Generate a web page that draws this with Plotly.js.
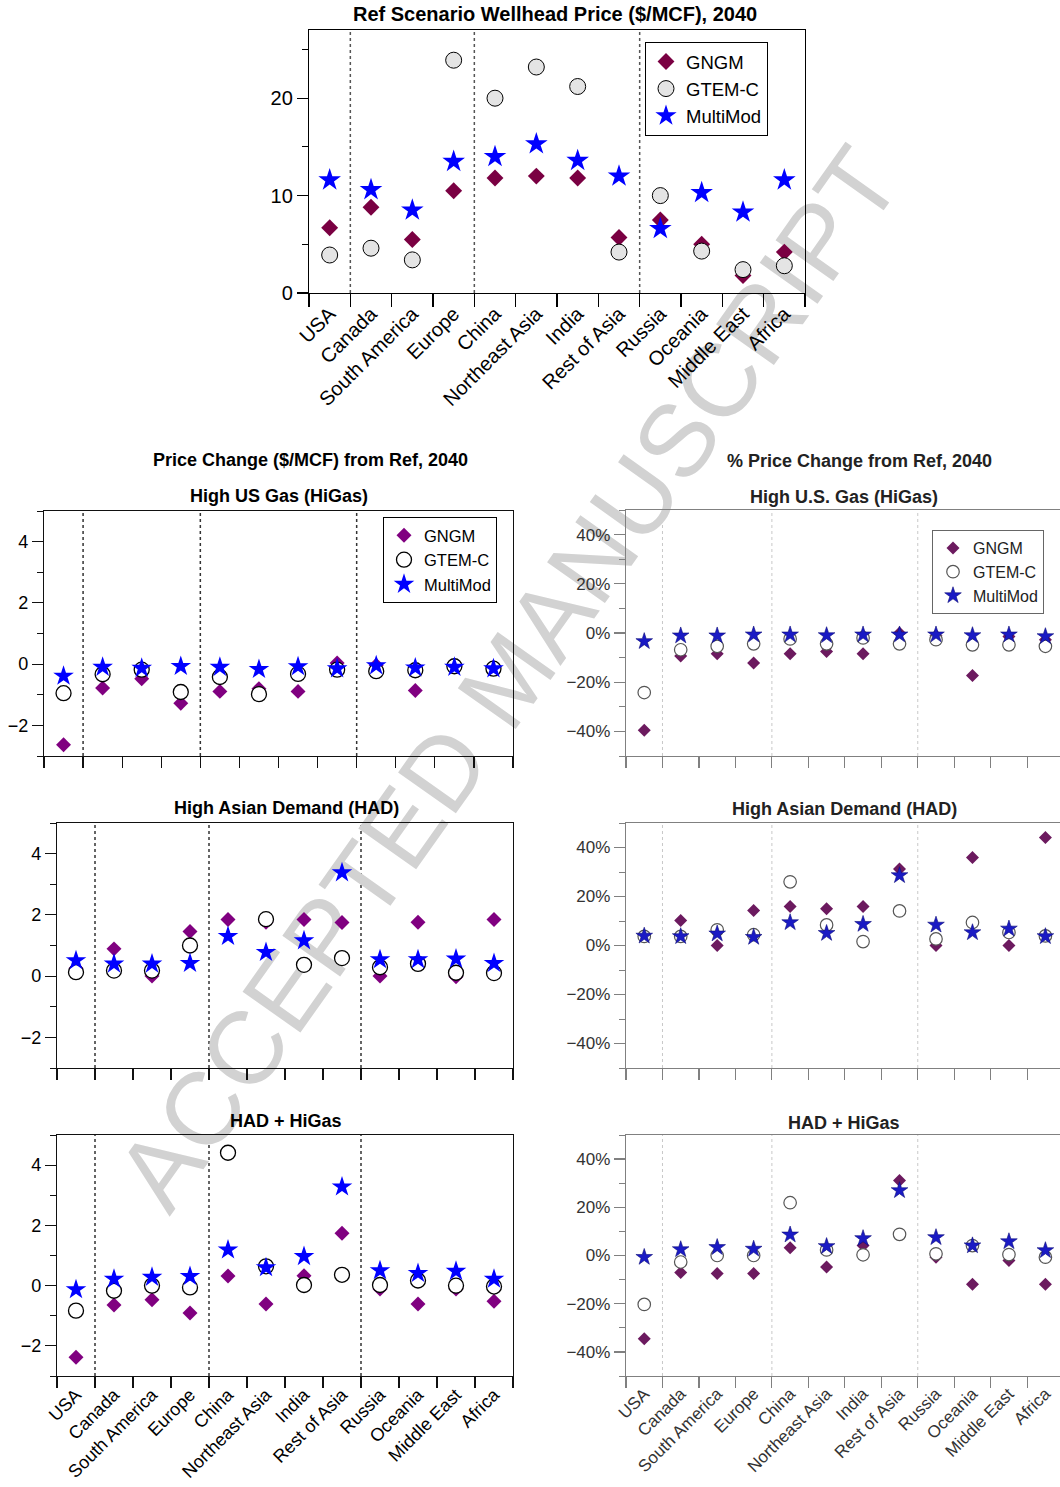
<!DOCTYPE html>
<html>
<head>
<meta charset="utf-8">
<script src="https://cdn.plot.ly/plotly-3.0.1.min.js"></script>
<style>
  html, body { margin: 0; padding: 0; background: #ffffff; }
  #chart { width: 1060px; height: 1487px; }
</style>
</head>
<body>
<div id="chart"></div>
<script>
// ---------------- DATA ----------------
const regions = ["USA", "Canada", "South America", "Europe", "China", "Northeast Asia",
                 "India", "Rest of Asia", "Russia", "Oceania", "Middle East", "Africa"];
const seriesNames = ["GNGM", "GTEM-C", "MultiMod"];

// Reference scenario wellhead price ($/MCF), 2040
const refGNGM = [6.7, 8.8, 5.5, 10.5, 11.8, 12.0, 11.8, 5.7, 7.5, 5.0, 1.8, 4.2];
const refGTEM = [3.9, 4.6, 3.4, 23.9, 20.0, 23.2, 21.2, 4.2, 10.0, 4.3, 2.4, 2.8];
const refMM   = [11.6, 10.6, 8.5, 13.5, 14.0, 15.3, 13.6, 12.0, 6.6, 10.3, 8.3, 11.6];

// Price change ($/MCF) from Ref, 2040
const higasGNGM = [-2.63, -0.78, -0.48, -1.28, -0.89, -0.80, -0.89, 0.04, -0.04, -0.86, -0.07, -0.10];
const higasGTEM = [-0.95, -0.33, -0.18, -0.91, -0.42, -0.98, -0.32, -0.18, -0.23, -0.20, -0.07, -0.15];
const higasMM   = [-0.39, -0.10, -0.13, -0.07, -0.10, -0.17, -0.08, -0.15, -0.05, -0.12, -0.10, -0.15];

const hadGNGM = [0.26, 0.89, 0.00, 1.46, 1.85, 1.76, 1.85, 1.75, 0.00, 1.76, -0.02, 1.85];
const hadGTEM = [0.13, 0.18, 0.18, 1.00, 5.35, 1.86, 0.37, 0.59, 0.29, 0.40, 0.11, 0.10];
const hadMM   = [0.51, 0.40, 0.40, 0.42, 1.30, 0.78, 1.16, 3.38, 0.54, 0.54, 0.56, 0.42];

const bothGNGM = [-2.38, -0.64, -0.47, -0.91, 0.32, -0.61, 0.33, 1.74, -0.11, -0.61, -0.11, -0.52];
const bothGTEM = [-0.83, -0.17, 0.00, -0.06, 4.41, 0.64, 0.02, 0.36, 0.02, 0.17, 0.00, -0.03];
const bothMM   = [-0.13, 0.22, 0.28, 0.31, 1.19, 0.60, 0.97, 3.28, 0.50, 0.41, 0.48, 0.22];

// % price change from Ref, 2040
const pctHigasGNGM = [-39.5, -9.3, -8.4, -12.2, -8.4, -7.5, -8.4, 0.0, -1.1, -17.3, -1.4, -2.7];
const pctHigasGTEM = [-24.2, -6.8, -5.4, -4.4, -2.4, -4.4, -2.0, -4.4, -2.7, -4.8, -4.8, -5.4];
const pctHigasMM   = [-3.4, -1.1, -1.1, -0.7, -0.7, -1.0, -0.7, -0.7, -0.7, -1.0, -0.7, -1.4];

const pctHadGNGM = [3.9, 10.2, 0.0, 14.3, 15.9, 15.0, 15.9, 31.2, 0.0, 35.9, 0.0, 44.1];
const pctHadGTEM = [3.7, 3.7, 6.4, 4.4, 26.0, 8.4, 1.6, 14.1, 2.7, 9.4, 5.3, 3.9];
const pctHadMM   = [3.9, 3.7, 4.8, 3.4, 9.4, 5.0, 8.7, 28.6, 8.4, 5.3, 6.8, 3.7];

const pctBothGNGM = [-34.5, -7.1, -7.5, -7.5, 3.2, -4.8, 4.1, 31.1, -0.7, -11.9, -2.1, -11.9];
const pctBothGTEM = [-20.3, -2.7, 0.0, 0.0, 21.9, 2.3, 0.3, 8.8, 0.7, 4.1, 0.4, -0.7];
const pctBothMM   = [-0.7, 2.5, 3.4, 2.7, 8.6, 3.8, 7.1, 27.0, 7.5, 4.1, 5.8, 2.1];

// Text
const mainTitle = "Ref Scenario Wellhead Price ($/MCF), 2040";
const leftHeader = "Price Change ($/MCF) from Ref, 2040";
const rightHeader = "% Price Change from Ref, 2040";
const leftTitles = ["High US Gas (HiGas)", "High Asian Demand (HAD)", "HAD + HiGas"];
const rightTitles = ["High U.S. Gas (HiGas)", "High Asian Demand (HAD)", "HAD + HiGas"];
const watermark = "ACCEPTED MANUSCRIPT";

// ---------------- LAYOUT HELPERS ----------------
const W = 1060, H = 1487;
const FONT = "Liberation Sans, Arial, Helvetica, sans-serif";
const px = v => v / W;
const py = v => 1 - v / H;

const styles = {
  top:   { dia: { color: "#7a0042", size: 13 },
           cir: { color: "#e4e4e4", size: 16, line: { color: "#000", width: 1 } },
           star: { color: "#0000ff", size: 17 },
           axis: "#000", dot: "#555", tick: 20, text: "#000" },
  left:  { dia: { color: "#800080", size: 11.5 },
           cir: { color: "#ffffff", size: 15, line: { color: "#000", width: 1.3 } },
           star: { color: "#0000ff", size: 15.5 },
           axis: "#111", dot: "#333", tick: 18, text: "#000" },
  right: { dia: { color: "#6c1a5f", size: 10 },
           cir: { color: "#ffffff", size: 12.5, line: { color: "#555", width: 1.2 } },
           star: { color: "#1a1ac4", size: 12.5, line: { color: "#0b0b7a", width: 0.6 } },
           axis: "#808080", dot: "#c8c8c8", tick: 17, text: "#333" }
};

const traces = [];
function addPanel(idx, st, g, t, m, legendName) {
  const xa = idx === 1 ? "x" : "x" + idx;
  const ya = idx === 1 ? "y" : "y" + idx;
  const sets = [
    [seriesNames[0], g, "diamond", st.dia],
    [seriesNames[1], t, "circle", st.cir],
    [seriesNames[2], m, "star", st.star]
  ];
  sets.forEach(([name, vals, sym, mk]) => {
    traces.push({
      type: "scatter", mode: "markers", name: name,
      x: regions, y: vals, xaxis: xa, yaxis: ya,
      marker: Object.assign({ symbol: sym, line: { width: 0 } }, mk),
      showlegend: !!legendName, legend: legendName || "legend",
      cliponaxis: true, hoverinfo: "x+y+name"
    });
  });
}

addPanel(1, styles.top, refGNGM, refGTEM, refMM, "legend");
addPanel(2, styles.left, higasGNGM, higasGTEM, higasMM, "legend2");
addPanel(3, styles.left, hadGNGM, hadGTEM, hadMM, null);
addPanel(4, styles.left, bothGNGM, bothGTEM, bothMM, null);
addPanel(5, styles.right, pctHigasGNGM, pctHigasGTEM, pctHigasMM, "legend3");
addPanel(6, styles.right, pctHadGNGM, pctHadGTEM, pctHadMM, null);
addPanel(7, styles.right, pctBothGNGM, pctBothGTEM, pctBothMM, null);

const layout = {
  width: W, height: H,
  margin: { l: 0, r: 0, t: 0, b: 0 },
  paper_bgcolor: "#ffffff", plot_bgcolor: "#ffffff",
  font: { family: FONT, color: "#000" },
  hovermode: "closest",
  annotations: [], shapes: []
};

// panel geometry in pixels: [x0, x1, yTop, yBottom]
const panels = {
  1: { g: [309, 805, 30, 293], st: styles.top, yr: [0, 27], dt: 10, mdt: 5, labels: true, xr: [-0.5, 11.5], mirrorY: true, suf: "" },
  2: { g: [44, 513, 511, 756], st: styles.left, yr: [-3, 5], dt: 2, mdt: 1, labels: false, xr: [-0.5, 11.5], mirrorY: true, suf: "" },
  3: { g: [57, 513, 823, 1068], st: styles.left, yr: [-3, 5], dt: 2, mdt: 1, labels: false, xr: [-0.5, 11.5], mirrorY: true, suf: "" },
  4: { g: [57, 513, 1135, 1376], st: styles.left, yr: [-3, 5], dt: 2, mdt: 1, labels: true, xr: [-0.5, 11.5], mirrorY: true, suf: "" },
  5: { g: [626, 1060, 510, 756], st: styles.right, yr: [-50, 50], dt: 20, mdt: 10, labels: false, xr: [-0.5, 11.4], mirrorY: false, suf: "%" },
  6: { g: [626, 1060, 823, 1068], st: styles.right, yr: [-50, 50], dt: 20, mdt: 10, labels: false, xr: [-0.5, 11.4], mirrorY: false, suf: "%" },
  7: { g: [626, 1060, 1135, 1376], st: styles.right, yr: [-50, 50], dt: 20, mdt: 10, labels: true, xr: [-0.5, 11.4], mirrorY: false, suf: "%" }
};

Object.keys(panels).forEach(k => {
  const p = panels[k];
  const i = Number(k);
  const xn = i === 1 ? "xaxis" : "xaxis" + i;
  const yn = i === 1 ? "yaxis" : "yaxis" + i;
  const xa = i === 1 ? "x" : "x" + i;
  const ya = i === 1 ? "y" : "y" + i;
  const st = p.st;
  layout[xn] = {
    domain: [px(p.g[0]), px(p.g[1])], anchor: ya,
    type: "category", categoryorder: "array", categoryarray: regions,
    range: p.xr, tickson: "boundaries",
    ticks: "outside", ticklen: i === 1 ? 13 : 11, tickwidth: 1.2, tickcolor: st.axis,
    showline: true, linecolor: st.axis, linewidth: 1.2, mirror: true,
    showgrid: false, zeroline: false,
    showticklabels: p.labels, tickangle: -45,
    tickfont: { family: FONT, size: st.tick, color: st.text },
    automargin: false, fixedrange: true
  };
  layout[yn] = {
    domain: [py(p.g[3]), py(p.g[2])], anchor: xa,
    range: p.yr, tick0: 0, dtick: p.dt,
    ticks: "outside", ticklen: 11, tickwidth: 1.2, tickcolor: st.axis,
    minor: { dtick: p.mdt, tick0: 0, ticks: "outside", ticklen: 6, tickwidth: 1, tickcolor: st.axis },
    showline: true, linecolor: st.axis, linewidth: 1.2, mirror: p.mirrorY,
    showgrid: false, zeroline: false, ticksuffix: p.suf,
    tickfont: { family: FONT, size: st.tick, color: st.text },
    automargin: false, fixedrange: true
  };
  // dotted region separators (between USA|Canada, Europe|China, Rest of Asia|Russia)
  [0.5, 3.5, 7.5].forEach(b => {
    layout.shapes.push({
      type: "line", xref: xa, yref: ya + " domain", x0: b, x1: b, y0: 0, y1: 1,
      line: { color: st.dot, width: i >= 5 ? 1 : 1.5, dash: "dot" }, layer: "below"
    });
  });
});

// titles
function title(text, xc, yc, size, color) {
  layout.annotations.push({
    text: "<b>" + text + "</b>", xref: "paper", yref: "paper",
    x: px(xc), y: py(yc), xanchor: "center", yanchor: "middle", showarrow: false,
    font: { family: FONT, size: size, color: color || "#000" }
  });
}
title(mainTitle, 555, 14, 20);
title(leftHeader, 310, 460, 18);
title(rightHeader, 859, 461, 18, "#222");
title(leftTitles[0], 279, 496, 18);
title(rightTitles[0], 844, 497, 18, "#222");
title(leftTitles[1], 286, 808, 18);
title(rightTitles[1], 844, 809, 18, "#222");
title(leftTitles[2], 286, 1121, 18);
title(rightTitles[2], 844, 1123, 18, "#222");

// legends
layout.legend = {
  x: px(645), y: py(42), xanchor: "left", yanchor: "top",
  bgcolor: "#ffffff", bordercolor: "#000", borderwidth: 1,
  font: { family: FONT, size: 18.5, color: "#000" }, tracegroupgap: 0
};
layout.legend2 = {
  x: px(383), y: py(517), xanchor: "left", yanchor: "top",
  bgcolor: "#ffffff", bordercolor: "#000", borderwidth: 1,
  font: { family: FONT, size: 16.5, color: "#000" }, tracegroupgap: 0
};
layout.legend3 = {
  x: px(932), y: py(530), xanchor: "left", yanchor: "top",
  bgcolor: "#ffffff", bordercolor: "#666", borderwidth: 1,
  font: { family: FONT, size: 16, color: "#222" }, tracegroupgap: 0
};

// watermark, drawn beneath the markers
layout.shapes.push({
  type: "line", xref: "paper", yref: "paper", layer: "below",
  x0: px(140), y0: py(1180), x1: px(860), y1: py(165),
  line: { color: "rgba(0,0,0,0)", width: 0 },
  label: {
    text: watermark, textposition: "middle", textangle: "auto",
    xanchor: "center", yanchor: "middle",
    font: { family: FONT, size: 103, color: "#d2d2d2" }
  }
});

Plotly.newPlot("chart", traces, layout, { displayModeBar: false, staticPlot: true });
</script>
</body>
</html>
